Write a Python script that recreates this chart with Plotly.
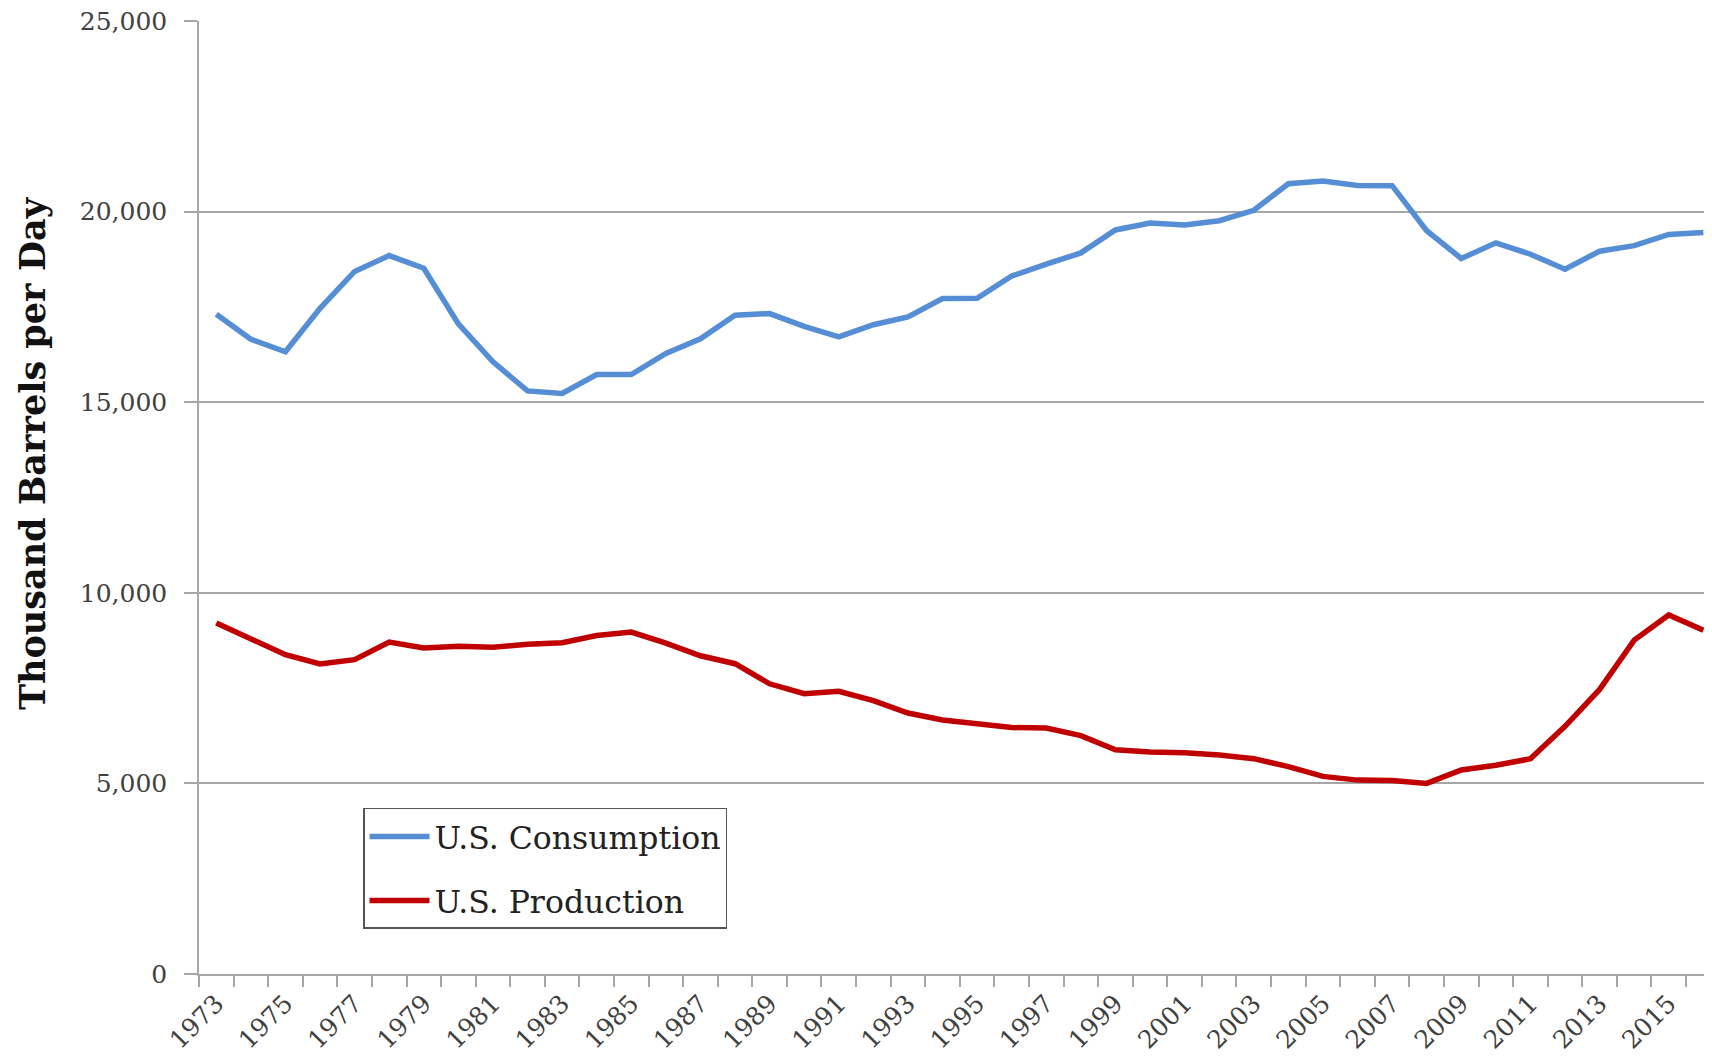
import plotly.graph_objects as go

years = list(range(1973, 2017))
consumption = [17308, 16653, 16322, 17461, 18431, 18847, 18513, 17056, 16058, 15296,
               15231, 15726, 15726, 16281, 16665, 17283, 17325, 16988, 16714, 17033,
               17237, 17718, 17725, 18309, 18620, 18917, 19519, 19701, 19649, 19761,
               20034, 20731, 20802, 20687, 20680, 19498, 18771, 19180, 18882, 18490,
               18961, 19106, 19400, 19450]
production = [9208, 8774, 8375, 8132, 8245, 8707, 8552, 8597, 8572, 8649,
              8688, 8879, 8971, 8680, 8349, 8140, 7613, 7355, 7417, 7171,
              6847, 6662, 6560, 6465, 6452, 6252, 5881, 5822, 5801, 5744,
              5649, 5441, 5184, 5086, 5077, 5000, 5353, 5478, 5646, 6497,
              7466, 8759, 9418, 9020]
tick_years = list(range(1973, 2017, 2))
y_ticks = [0, 5000, 10000, 15000, 20000, 25000]
y_title = "Thousand Barrels per Day"

FONT = "DejaVu Serif"
GRID = "#a6a6a6"

fig = go.Figure()
fig.add_trace(go.Scatter(x=years, y=consumption, mode="lines", name="U.S. Consumption",
                         line=dict(color="#558ED5", width=5.5), legendgroup="a"))
fig.add_trace(go.Scatter(x=years, y=production, mode="lines", name="U.S. Production",
                         line=dict(color="#C00000", width=5.5), legendgroup="b"))

fig.update_layout(
    width=1704, height=1052,
    margin=dict(l=191, r=0, t=13, b=86, autoexpand=False),
    paper_bgcolor="white", plot_bgcolor="white",
    font=dict(family=FONT, color="#404040", size=25),
    showlegend=True,
    legend=dict(x=0.1084, y=0.1742, xanchor="left", yanchor="top",
                bordercolor="#555555", borderwidth=1.5, bgcolor="white",
                font=dict(family=FONT, size=31.5, color="#222222"),
                itemwidth=60,
                tracegroupgap=20, traceorder="grouped"),
    xaxis=dict(range=[1972.5, 2016.25], tickmode="array", tickvals=tick_years,
               ticktext=[str(y) for y in tick_years], tickangle=-45,
               ticks="", showgrid=False, zeroline=False, automargin=False,
               showline=True, linecolor=GRID, linewidth=2,
               ticklabelstandoff=3, ticklabeloverflow="allow",
               tickfont=dict(family=FONT, size=25, color="#404040"),
               minor=dict(tick0=1972.5, dtick=1, ticks="outside", ticklen=11,
                          tickcolor=GRID, tickwidth=1.5, showgrid=False)),
    yaxis=dict(range=[0, 25000], tickvals=y_ticks,
               ticktext=[f"{v:,}" for v in y_ticks],
               ticks="outside", ticklen=13, tickcolor=GRID, tickwidth=1.5,
               showgrid=True, gridcolor=GRID, gridwidth=1.5, automargin=False,
               zeroline=False, showline=True, linecolor=GRID, linewidth=1.5,
               ticklabelstandoff=12, ticklabeloverflow="allow",
               tickfont=dict(family=FONT, size=25, color="#404040")),
    annotations=[dict(text=f"<b>{y_title}</b>", xref="paper", yref="paper",
                      x=0, y=0.5467, xanchor="center", yanchor="middle",
                      xshift=-166, textangle=-90, showarrow=False,
                      font=dict(family=FONT, size=35, color="#111111"))],
)

fig.write_html("out.html")
